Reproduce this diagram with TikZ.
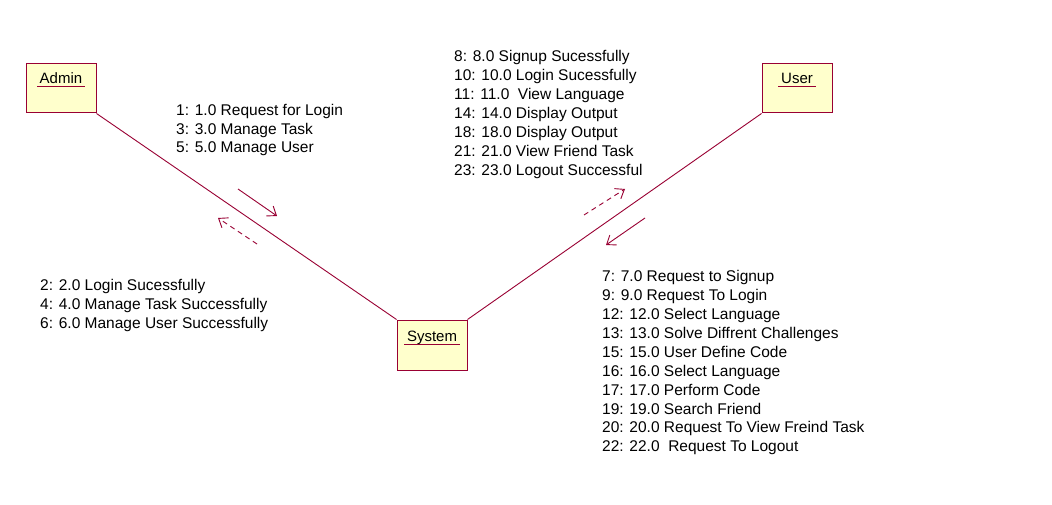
\documentclass[tikz,border=0pt]{standalone}
\usepackage{fontspec}
\setmainfont{Liberation Sans}
\usetikzlibrary{arrows.meta}
\definecolor{umlred}{HTML}{990033}
\definecolor{umlfill}{HTML}{FFFFCC}
\tikzset{
  objbox/.style={draw=umlred, fill=umlfill, line width=1pt, minimum width=70pt, minimum height=49pt, inner sep=0pt},
  objname/.style={font=\fontsize{15}{17}\selectfont, inner sep=0pt, anchor=base},
  uline/.style={draw=umlred, line width=1pt},
  link/.style={draw=umlred, line width=0.9pt},
  msg/.style={draw=umlred, line width=0.9pt, -{Straight Barb[length=8pt,width=12pt]}},
  retmsg/.style={msg, dash pattern=on 5pt off 4pt},
  lbl/.style={font=\fontsize{15.5}{17}\selectfont, inner sep=0pt, anchor=base west}
}
\begin{document}
\begin{tikzpicture}[x=1pt,y=-1pt]
\useasboundingbox (0,0) rectangle (1052,505);
\fill[white] (0,0) rectangle (1052,505);
% objects
\node[objbox] (admin) at (61,88.5) {};
\node[objbox] (user) at (797,88.5) {};
\node[objbox, minimum height=50pt] (system) at (432,345) {};
\node[objname] (adminname) at (61,84) {Admin};
\node[objname] (username) at (797,83.5) {User};
\node[objname] (systemname) at (432,341) {System};
\foreach \n in {adminname,username,systemname}
  \draw[uline] ([xshift=-2.5pt,yshift=-3pt]\n.base west) -- ([xshift=2.5pt,yshift=-3pt]\n.base east);
% links
\draw[link] (admin.south east) -- (system.north west);
\draw[link] (user.south west) -- (system.north east);
% message arrows
\coordinate (a1s) at (238,189); \coordinate (a1e) at (277,216);
\coordinate (a2s) at (257,244); \coordinate (a2e) at (218,218);
\coordinate (u1s) at (584,215); \coordinate (u1e) at (625,189);
\coordinate (u2s) at (645,218); \coordinate (u2e) at (606,245);
\draw[msg] (a1s) -- (a1e);
\draw[retmsg] (a2s) -- (a2e);
\draw[retmsg] (u1s) -- (u1e);
\draw[msg] (u2s) -- (u2e);
% labels
\foreach \t [count=\i] in {1: 1.0 Request for Login,3: 3.0 Manage Task,5: 5.0 Manage User}
  \node[lbl] (ga\i) at (176,{115.7+18.5*(\i-1)}) {\t};
\foreach \t [count=\i] in {2: 2.0 Login Sucessfully,4: 4.0 Manage Task Successfully,6: 6.0 Manage User Successfully}
  \node[lbl] (gb\i) at (40,{290+19.1*(\i-1)}) {\t};
\foreach \t [count=\i] in {8: 8.0 Signup Sucessfully,10: 10.0 Login Sucessfully,11: 11.0\ \ View Language,14: 14.0 Display Output,18: 18.0 Display Output,21: 21.0 View Friend Task,23: 23.0 Logout Successful}
  \node[lbl] (gc\i) at (454,{61.7+18.9*(\i-1)}) {\t};
\foreach \t [count=\i] in {7: 7.0 Request to Signup,9: 9.0 Request To Login,12: 12.0 Select Language,13: 13.0 Solve Diffrent Challenges,15: 15.0 User Define Code,16: 16.0 Select Language,17: 17.0 Perform Code,19: 19.0 Search Friend,20: 20.0 Request To View Freind Task,22: 22.0\ \ Request To Logout}
  \node[lbl] (gd\i) at (602,{281.7+18.9*(\i-1)}) {\t};
\end{tikzpicture}
\end{document}
